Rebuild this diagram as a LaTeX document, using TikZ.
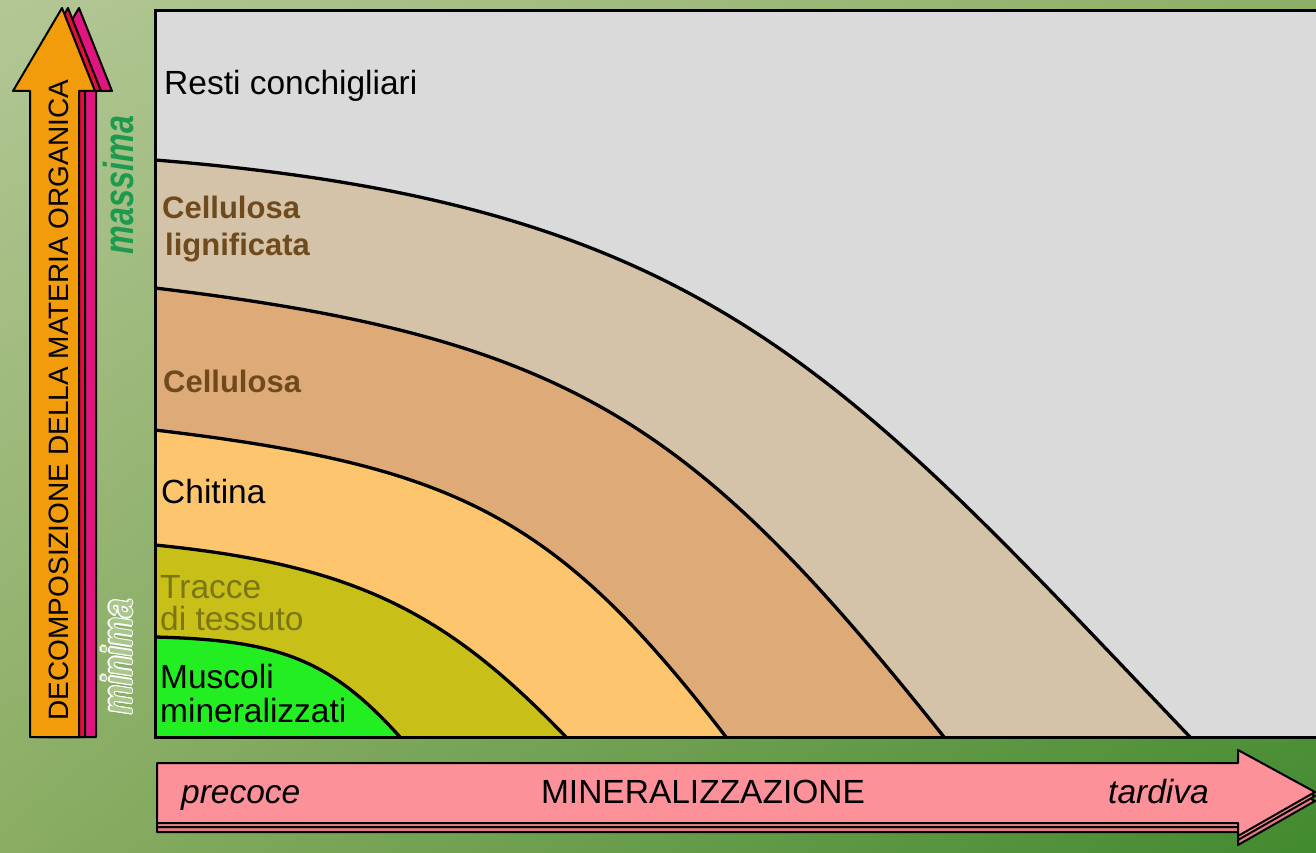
\documentclass[tikz,border=0pt]{standalone}
\usepackage{fontspec}
\setmainfont{Liberation Sans}
\usepackage{graphicx}
\usetikzlibrary{calc,shadings}
\definecolor{bgUL}{HTML}{B3C795}
\definecolor{bgUR}{HTML}{8DAF66}
\definecolor{bgLL}{HTML}{8AAD63}
\definecolor{bgLR}{HTML}{428A2F}
\definecolor{boxgray}{HTML}{DADADA}
\definecolor{ligcol}{HTML}{D4C3A8}
\definecolor{celcol}{HTML}{DEAB78}
\definecolor{chicol}{HTML}{FDC56E}
\definecolor{tracol}{HTML}{C8C018}
\definecolor{muscol}{HTML}{22EE22}
\definecolor{browntext}{HTML}{6E4A1C}
\definecolor{olivetext}{HTML}{7B7512}
\definecolor{orangearrow}{HTML}{F29B0B}
\definecolor{crimsonside}{HTML}{E0103A}
\definecolor{magentaside}{HTML}{E0157F}
\definecolor{pinkfront}{HTML}{FD9199}
\definecolor{pinkmid}{HTML}{F0868F}
\definecolor{pinkback}{HTML}{E47A84}
\definecolor{massimacol}{HTML}{1E9A4E}
\definecolor{minimacol}{HTML}{A9C78C}
\begin{document}
\begin{tikzpicture}[x=1pt,y=-1pt,
  curve/.style={line width=3.3pt},
  arrowline/.style={line width=2pt, line join=round},
  lab/.style={inner sep=0pt, anchor=base west, align=left},
  vlab/.style={inner sep=0pt, anchor=base, rotate=90},
]
\useasboundingbox (0,0) rectangle (1316,853);
\shade[upper left=bgUL, upper right=bgUR, lower left=bgLL, lower right=bgLR] (0,0) rectangle (1316,853);

% main box and bands
\fill[boxgray] (155,11) rectangle (1316,737);
\fill[ligcol] (155,160) .. controls (705,204) and (840,370) .. (1190,737) -- (155,737) -- cycle;
\fill[celcol] (155,288) .. controls (574,338) and (694,424) .. (944,737) -- (155,737) -- cycle;
\fill[chicol] (155,430) .. controls (458,466) and (556,516) .. (726,737) -- (155,737) -- cycle;
\fill[tracol] (155,545) .. controls (355,565) and (446,612) .. (566,737) -- (155,737) -- cycle;
\fill[muscol] (155,637) .. controls (278,640) and (330,659) .. (400,737) -- (155,737) -- cycle;
\draw[curve] (155,160) .. controls (705,204) and (840,370) .. (1190,737);
\draw[curve] (155,288) .. controls (574,338) and (694,424) .. (944,737);
\draw[curve] (155,430) .. controls (458,466) and (556,516) .. (726,737);
\draw[curve] (155,545) .. controls (355,565) and (446,612) .. (566,737);
\draw[curve] (155,637) .. controls (278,640) and (330,659) .. (400,737);
\draw[line width=3pt] (1316,11) -- (155,11) -- (155,737) -- (1316,737);

% band labels (base = baseline of the last line)
\node[lab, font=\fontsize{33.5}{37}\selectfont] (resti) at (164,95) {Resti conchigliari};
\node[lab, text=browntext, font=\fontsize{31}{37}\selectfont\bfseries] (lign) at (162,255) {Cellulosa\\\hspace*{3pt}lignificata};
\node[lab, text=browntext, font=\fontsize{31}{37}\selectfont\bfseries] (cell) at (163,392) {Cellulosa};
\node[lab, font=\fontsize{33.5}{37}\selectfont] (chit) at (161,503) {Chitina};
\node[lab, text=olivetext, font=\fontsize{33.5}{32}\selectfont] (trac) at (160,630) {Tracce\\di tessuto};
\node[lab, font=\fontsize{33.5}{34}\selectfont] (musc) at (160,722) {Muscoli\\mineralizzati};

% vertical arrow (3D)
\draw[arrowline, fill=magentaside, shift={(17,0)}] (30,737) -- (30,91) -- (13,91) -- (62,8) -- (95,91) -- (79,91) -- (79,737) -- cycle;
\draw[arrowline, fill=crimsonside, shift={(6,0)}] (30,737) -- (30,91) -- (13,91) -- (62,8) -- (95,91) -- (79,91) -- (79,737) -- cycle;
\draw[arrowline, fill=orangearrow] (30,737) -- (30,91) -- (13,91) -- (62,8) -- (95,91) -- (79,91) -- (79,737) -- cycle;
\node[vlab, font=\fontsize{28}{30}\selectfont] (decomp) at (68,400) {DECOMPOSIZIONE DELLA MATERIA ORGANICA};

\node[vlab, text=massimacol, font=\fontsize{42}{44}\selectfont\bfseries\itshape] (massima) at (133,185) {\scalebox{0.77}[1]{massima}};
\foreach \dx/\dy in {1.3/0,-1.3/0,0/1.3,0/-1.3,0.9/0.9,-0.9/0.9,0.9/-0.9,-0.9/-0.9}{
  \node[vlab, text=white, font=\fontsize{42}{44}\selectfont\bfseries\itshape] at ($(132,657)+(\dx,\dy)$) {\scalebox{0.78}[1]{minima}};
}
\node[vlab, text=minimacol, font=\fontsize{42}{44}\selectfont\bfseries\itshape] (minima) at (132,657) {\scalebox{0.78}[1]{minima}};

% horizontal arrow (3D)
\draw[arrowline, fill=pinkback, shift={(0,9)}] (157,763) -- (1238,763) -- (1238,750) -- (1315,792) -- (1238,836) -- (1238,823) -- (157,823) -- cycle;
\draw[arrowline, fill=pinkmid, shift={(0,4)}] (157,763) -- (1238,763) -- (1238,750) -- (1315,792) -- (1238,836) -- (1238,823) -- (157,823) -- cycle;
\draw[arrowline, fill=pinkfront] (157,763) -- (1238,763) -- (1238,750) -- (1315,792) -- (1238,836) -- (1238,823) -- (157,823) -- cycle;
\node[lab, font=\fontsize{33.5}{37}\selectfont\itshape] (precoce) at (181,803) {precoce};
\node[inner sep=0pt, anchor=base, font=\fontsize{33.5}{37}\selectfont] (miner) at (703,803) {MINERALIZZAZIONE};
\node[lab, font=\fontsize{33.5}{37}\selectfont\itshape] (tardiva) at (1108,803) {tardiva};
\end{tikzpicture}
\end{document}
